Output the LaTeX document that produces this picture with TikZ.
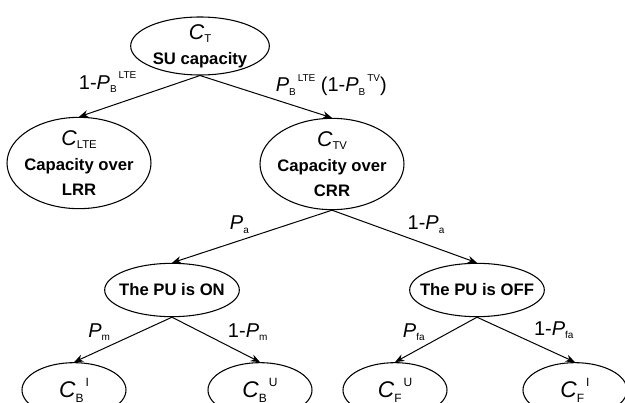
\documentclass[tikz,border=0pt]{standalone}
\usepackage{fontspec}
\setmainfont{Liberation Sans}
\usepackage{tikz}
\usetikzlibrary{arrows.meta,positioning,shapes.geometric}
\newcommand{\subsz}{\fontsize{7.5}{8}\selectfont}
\newcommand{\pv}[3]{\textnormal{\textit{#1}\raisebox{-0.18em}{\subsz #2}\ifx\relax#3\relax\else\hspace{1.5pt}\raisebox{0.52em}{\subsz #3}\fi}}
\newcommand{\bigc}[2]{{\fontsize{16}{18}\selectfont\renewcommand{\subsz}{\fontsize{8.5}{9}\selectfont}\pv{#1}{#2}{}}}

\begin{document}
\begin{tikzpicture}[
    on grid,
    state/.style={ellipse, draw, line width=0.8pt, inner sep=-10pt, align=center, font=\bfseries\fontsize{12.5}{19}\selectfont},
    big/.style={state, minimum width=108pt, minimum height=68.5pt},
    small/.style={state, minimum width=101pt, minimum height=40pt},
    leaf/.style={state, minimum width=78pt, minimum height=41pt, font=\fontsize{17}{20}\selectfont\renewcommand{\subsz}{\fontsize{9}{9}\selectfont}},
    arrow/.style={-{Stealth[length=7pt,width=5.5pt]}, line width=0.75pt},
    prob/.style={font=\fontsize{15}{18}\selectfont, inner sep=2pt}
  ]
    \useasboundingbox (0,0) rectangle (468.75pt,-302.25pt);
    \node[state, minimum width=104pt, minimum height=43.5pt] (su) at (150pt,-34.5pt) {\bigc{C}{T}\\SU capacity};
    \node[big, below left=87.75pt and 90.75pt of su] (lte) {\bigc{C}{LTE}\\Capacity over\\LRR};
    \node[big, below right=88.5pt and 99pt of su] (tv) {\bigc{C}{TV}\\Capacity over\\CRR};
    \node[small, below left=94.5pt and 120pt of tv] (on) {The PU is ON};
    \node[small, below right=94.5pt and 108.75pt of tv] (off) {The PU is OFF};
    \node[leaf, below left=75pt and 73.5pt of on] (bi) {\pv{C}{B}{I}};
    \node[leaf, below right=75pt and 66pt of on] (bu) {\pv{C}{B}{U}};
    \node[leaf, below left=75pt and 61.5pt of off] (fu) {\pv{C}{F}{U}};
    \node[leaf, below right=75pt and 73.5pt of off] (fi) {\pv{C}{F}{I}};
    % branch probabilities
    \draw[arrow] (su.south) -- node[prob, midway, above left] {1-\pv{P}{B}{LTE}} (lte.north);
    \draw[arrow] (su.south) -- node[prob, pos=0.55, above right] {\pv{P}{B}{LTE} (1-\pv{P}{B}{TV})} (tv.north);
    \draw[arrow] (tv.south) -- node[prob, midway, above left] {\pv{P}{a}{}} (on.north);
    \draw[arrow] (tv.south) -- node[prob, midway, above right] {1-\pv{P}{a}{}} (off.north);
    \draw[arrow] (on.south) -- node[prob, pos=0.6, above left] {\pv{P}{m}{}} (bi.north);
    \draw[arrow] (on.south) -- node[prob, pos=0.6, above right] {1-\pv{P}{m}{}} (bu.north);
    \draw[arrow] (off.south) -- node[prob, pos=0.6, above left] {\pv{P}{fa}{}} (fu.north);
    \draw[arrow] (off.south) -- node[prob, pos=0.55, above right] {1-\pv{P}{fa}{}} (fi.north);
  \end{tikzpicture}
\end{document}
